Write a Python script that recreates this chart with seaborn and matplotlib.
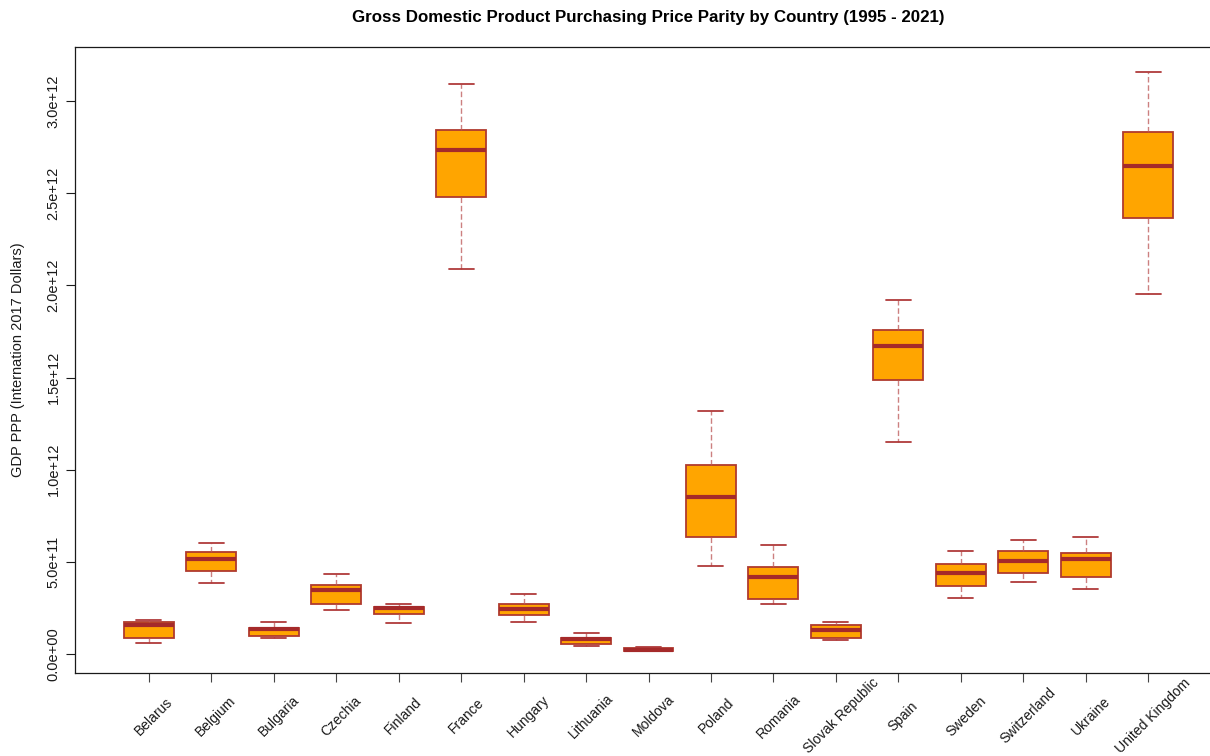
import numpy as np
import pandas as pd
import matplotlib
matplotlib.use("Agg")
import matplotlib.pyplot as plt
import matplotlib.transforms as mtransforms
import seaborn as sns

# GDP PPP (international 2017 dollars), five-number summaries per country, in trillions
countries = ["Belarus", "Belgium", "Bulgaria", "Czechia", "Finland", "France",
             "Hungary", "Lithuania", "Moldova", "Poland", "Romania",
             "Slovak Republic", "Spain", "Sweden", "Switzerland", "Ukraine",
             "United Kingdom"]
whisker_low = [0.061, 0.383, 0.085, 0.237, 0.167, 2.090, 0.175, 0.042, 0.014,
               0.477, 0.270, 0.074, 1.150, 0.302, 0.389, 0.351, 1.953]
q1 = [0.088, 0.450, 0.098, 0.270, 0.219, 2.478, 0.213, 0.056, 0.018,
      0.635, 0.297, 0.088, 1.486, 0.371, 0.438, 0.416, 2.367]
median = [0.156, 0.517, 0.136, 0.349, 0.248, 2.734, 0.246, 0.081, 0.024,
          0.852, 0.418, 0.132, 1.671, 0.441, 0.503, 0.517, 2.647]
q3 = [0.175, 0.555, 0.141, 0.374, 0.257, 2.844, 0.270, 0.088, 0.030,
      1.025, 0.470, 0.156, 1.758, 0.488, 0.559, 0.550, 2.834]
whisker_high = [0.184, 0.602, 0.172, 0.436, 0.270, 3.090, 0.327, 0.112, 0.036,
                1.318, 0.590, 0.175, 1.920, 0.559, 0.617, 0.636, 3.156]
SCALE = 1e12

y_ticks = [0.0, 0.5e12, 1.0e12, 1.5e12, 2.0e12, 2.5e12, 3.0e12]

# long-form table: one row per summary point, so each box reproduces its summary
rows = []
for i, c in enumerate(countries):
    for v in (whisker_low[i], q1[i], median[i], q3[i], whisker_high[i]):
        rows.append({"country": c, "gdp": v * SCALE})
df = pd.DataFrame(rows)

sns.set_style("ticks")
plt.rcParams["font.family"] = ["Liberation Sans", "DejaVu Sans"]

BROWN = "#A52A2A"
TEXT = "#1a1a1a"
fig = plt.figure(figsize=(12.10, 7.56), dpi=100)
W, H = 1210, 756
ax = fig.add_axes([75 / W, (H - 673) / H, (1222 - 75) / W, (673 - 47) / H])

sns.boxplot(
    data=df, x="country", y="gdp", order=countries, ax=ax,
    width=0.8, color="#FFA500", saturation=1, whis=1.5, fliersize=0,
    linecolor=BROWN, linewidth=1.2,
    boxprops=dict(edgecolor="#B03A2E", linewidth=1.3),
    whiskerprops=dict(color="#BC5656", linestyle=(0, (4, 2)), linewidth=1.0, alpha=0.75),
    capprops=dict(color="#B03A3A", linewidth=1.3),
    medianprops=dict(color=BROWN, linewidth=3.0),
)

ax.set_xlim(-1.18, 17.18)
ax.set_ylim(-0.103e12, 3.293e12)

ax.set_yticks(y_ticks)
ax.set_yticklabels([f"{v:.1e}" for v in y_ticks], rotation=90, va="center",
                   fontsize=10.5, color=TEXT)
ax.tick_params(axis="y", length=6.5, width=0.8, pad=4, color=TEXT)
ax.tick_params(axis="x", length=6.5, width=0.8, pad=24.5, color="#444444")

ax.set_xticks(range(len(countries)))
ax.set_xticklabels(countries, rotation=45, ha="center", va="center",
                   fontsize=10, color=TEXT)
shift = mtransforms.ScaledTranslation(5 / 100, 0, fig.dpi_scale_trans)
for lab in ax.get_xticklabels():
    lab.set_transform(lab.get_transform() + shift)

ax.set_xlabel("")
ax.set_ylabel("GDP PPP (Internation 2017 Dollars)", fontsize=10.5,
              color=TEXT, va="center")
ax.yaxis.set_label_coords((18 - 75) / 1147, 0.5)

ax.set_title("Gross Domestic Product Purchasing Price Parity by Country (1995 - 2021)",
             fontsize=12.2, fontweight="bold", pad=18, color="black")

for side in ("left", "top", "bottom", "right"):
    ax.spines[side].set_visible(True)
    ax.spines[side].set_color(TEXT)
    ax.spines[side].set_linewidth(0.9)

fig.savefig("out.png", dpi=100)
